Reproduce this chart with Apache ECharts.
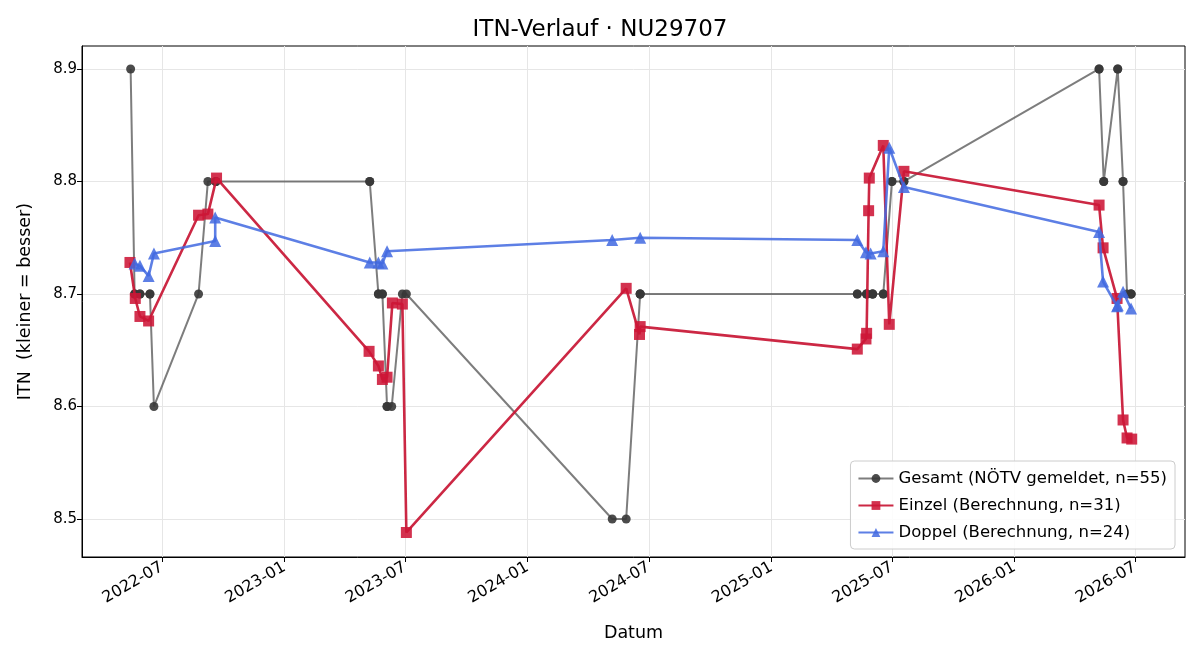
<!DOCTYPE html>
<html><head><meta charset="utf-8">
<script src="https://cdn.jsdelivr.net/npm/echarts@6/dist/echarts.min.js"></script>
<style>html,body{margin:0;padding:0;background:#fff}#c{width:1200px;height:660px}</style>
</head><body><div id="c"></div>
<script>
const gesamtDates = ['2022-05-15','2022-05-21','2022-05-21','2022-05-29','2022-05-29','2022-06-13','2022-06-13','2022-06-19','2022-08-25','2022-09-08','2022-09-20','2022-09-20','2022-09-20',
 '2023-05-09','2023-05-09','2023-05-22','2023-05-22','2023-05-28','2023-05-28','2023-06-04','2023-06-04','2023-06-11','2023-06-27','2023-07-03',
 '2024-05-07','2024-05-28','2024-06-18','2024-06-18','2024-06-18',
 '2025-05-10','2025-05-10','2025-05-24','2025-05-24','2025-05-24','2025-06-02','2025-06-02','2025-06-02','2025-06-18','2025-06-18','2025-07-01','2025-07-01','2025-07-19','2025-07-19',
 '2026-05-08','2026-05-08','2026-05-15','2026-05-15','2026-06-05','2026-06-05','2026-06-13','2026-06-13','2026-06-19','2026-06-25','2026-06-25','2026-06-25'];
const gesamtValues = [8.9,8.7,8.7,8.7,8.7,8.7,8.7,8.6,8.7,8.8,8.8,8.8,8.8,
 8.8,8.8,8.7,8.7,8.7,8.7,8.6,8.6,8.6,8.7,8.7,
 8.5,8.5,8.7,8.7,8.7,
 8.7,8.7,8.7,8.7,8.7,8.7,8.7,8.7,8.7,8.7,8.8,8.8,8.8,8.8,
 8.9,8.9,8.8,8.8,8.9,8.9,8.8,8.8,8.7,8.7,8.7,8.7];

const einzelDates = ['2022-05-14','2022-05-22','2022-05-29','2022-06-11','2022-08-25','2022-09-08','2022-09-21',
 '2023-05-08','2023-05-22','2023-05-28','2023-06-04','2023-06-12','2023-06-27','2023-07-03',
 '2024-05-28','2024-06-17','2024-06-18',
 '2025-05-10','2025-05-23','2025-05-24','2025-05-27','2025-05-28','2025-06-18','2025-06-27','2025-07-19',
 '2026-05-08','2026-05-14','2026-06-04','2026-06-13','2026-06-19','2026-06-26'];
const einzelValues = [8.728,8.696,8.680,8.676,8.770,8.771,8.803,
 8.649,8.636,8.624,8.626,8.692,8.691,8.488,
 8.705,8.664,8.671,
 8.651,8.660,8.665,8.774,8.803,8.832,8.673,8.809,
 8.779,8.741,8.696,8.588,8.572,8.571];

const doppelDates = ['2022-05-21','2022-05-29','2022-06-11','2022-06-19','2022-09-19','2022-09-19',
 '2023-05-09','2023-05-22','2023-05-28','2023-06-04',
 '2024-05-07','2024-06-18',
 '2025-05-10','2025-05-23','2025-05-30','2025-06-18','2025-06-27','2025-07-19',
 '2026-05-08','2026-05-14','2026-06-04','2026-06-05','2026-06-13','2026-06-25'];
const doppelValues = [8.727,8.725,8.716,8.736,8.747,8.768,
 8.728,8.728,8.727,8.738,
 8.748,8.750,
 8.748,8.737,8.736,8.738,8.830,8.795,
 8.755,8.711,8.689,8.690,8.702,8.687];

const xTickLabels = ['2022-07-01','2023-01-01','2023-07-01','2024-01-01','2024-07-01','2025-01-01','2025-07-01','2026-01-01','2026-07-01'];
const yTickLabels = [8.5,8.6,8.7,8.8,8.9];
const xRange = ['2022-03-03','2026-09-14'];

function ts(s){ return echarts.time.parse(s).getTime(); }
function pairs(d, v){ return d.map((x,i)=>[ts(x), v[i]]); }
const xTicks = xTickLabels.map(ts);
const FONT = 'DejaVu Sans';

const chart = echarts.init(document.getElementById('c'), null, {renderer:'canvas'});
chart.setOption({
  animation:false,
  backgroundColor:'#fff',
  title:{text:'ITN-Verlauf · NU29707', left:'center', top:14, textStyle:{fontFamily:FONT, fontSize:23, fontWeight:'normal', color:'#000'}},
  grid:{left:82, right:15, top:46, bottom:103, show:true, borderColor:'#000', borderWidth:1, backgroundColor:'transparent'},
  xAxis:{type:'value', min:ts(xRange[0]), max:ts(xRange[1]),
    name:'Datum', nameLocation:'middle', nameGap:67, nameTextStyle:{fontFamily:FONT, fontSize:17.5, color:'#000'},
    axisLine:{show:true, lineStyle:{color:'#000', width:1}},
    axisTick:{show:true, length:5, lineStyle:{color:'#000'}, customValues:xTicks},
    axisLabel:{rotate:30, fontFamily:FONT, fontSize:16, color:'#000', margin:9, customValues:xTicks,
      formatter:function(v){ return echarts.time.format(v,'{yyyy}-{MM}',false); }},
    splitLine:{show:true, lineStyle:{color:'#e6e6e6', width:1}}
  },
  yAxis:{type:'value', min:8.4662, max:8.9204,
    name:'ITN  (kleiner = besser)', nameLocation:'middle', nameGap:48, nameTextStyle:{fontFamily:FONT, fontSize:17.5, color:'#000'},
    axisLine:{show:true, lineStyle:{color:'#000', width:1}},
    axisTick:{show:true, length:5, lineStyle:{color:'#000'}, customValues:yTickLabels},
    axisLabel:{fontFamily:FONT, fontSize:15, color:'#000', margin:5, customValues:yTickLabels, formatter:v=>v.toFixed(1)},
    splitLine:{show:true, lineStyle:{color:'#e6e6e6', width:1}}
  },
  legend:{orient:'vertical', right:25, bottom:111, itemWidth:35, itemHeight:11, itemGap:10,
    backgroundColor:'rgba(255,255,255,0.85)', borderColor:'#ccc', borderWidth:1, borderRadius:4, padding:[9,8,8,7],
    textStyle:{fontFamily:FONT, fontSize:16.5, color:'#000'},
    data:['Gesamt (NÖTV gemeldet, n=55)','Einzel (Berechnung, n=31)','Doppel (Berechnung, n=24)']},
  series:[
    {name:'Gesamt (NÖTV gemeldet, n=55)', type:'line', data:pairs(gesamtDates,gesamtValues),
     symbol:'circle', symbolSize:9, lineStyle:{color:'rgba(75,75,75,0.72)', width:2},
     itemStyle:{color:'rgba(55,55,55,0.9)', borderWidth:0}, z:2},
    {name:'Einzel (Berechnung, n=31)', type:'line', data:pairs(einzelDates,einzelValues),
     symbol:'rect', symbolSize:11, lineStyle:{color:'rgba(200,22,52,0.92)', width:2.6},
     itemStyle:{color:'rgba(205,22,55,0.88)', borderWidth:0}, z:3},
    {name:'Doppel (Berechnung, n=24)', type:'line', data:pairs(doppelDates,doppelValues),
     symbol:'triangle', symbolSize:12, lineStyle:{color:'rgba(65,105,225,0.85)', width:2.6},
     itemStyle:{color:'rgba(65,105,225,0.85)', borderWidth:0}, z:4}
  ]
});
</script></body></html>
